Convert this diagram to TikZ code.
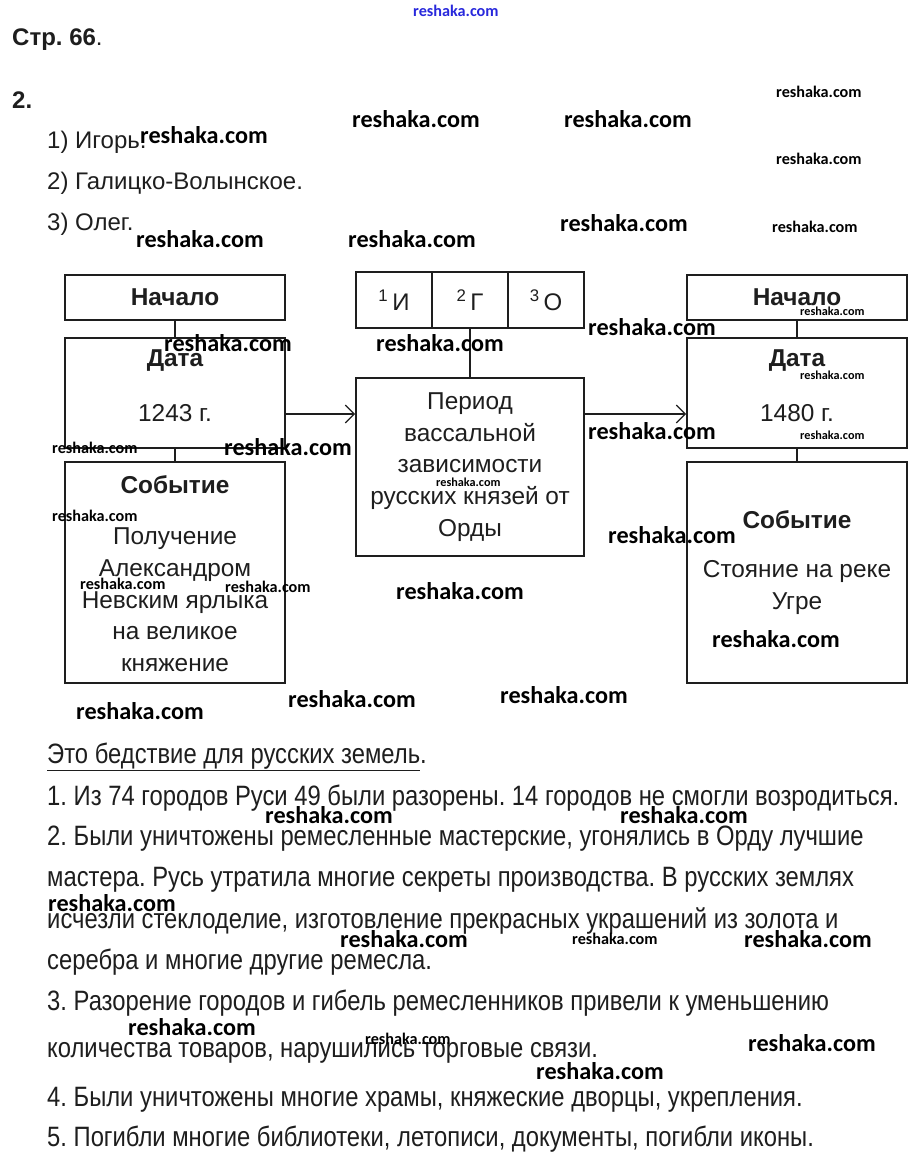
\documentclass[tikz,border=0pt]{standalone}
\usepackage{fontspec}
\setmainfont{Liberation Sans}
\newfontfamily\wmfont{Carlito}
\newfontfamily\narrowfont[FakeStretch=0.85]{Liberation Sans}
\usetikzlibrary{arrows.meta,positioning}
\definecolor{inkcolor}{RGB}{30,30,30}
\definecolor{wmblue}{RGB}{40,40,220}
\frenchspacing

\tikzset{
  infobox/.style={draw=inkcolor, line width=1.6pt, minimum width=220pt, inner sep=0pt},
  tabcell/.style={draw=inkcolor, line width=1.6pt, minimum width=76pt, minimum height=56pt,
                  inner sep=0pt, font=\fontsize{24}{28}\selectfont, text=inkcolor},
  boxhead/.style={font=\fontsize{24.4}{28}\selectfont\bfseries, text=inkcolor, inner sep=0pt},
  boxtext/.style={font=\fontsize{24.4}{31.7}\selectfont, text=inkcolor, align=center, inner sep=0pt},
  textline/.style={font=\fontsize{24}{28}\selectfont, text=inkcolor, anchor=west, inner sep=0pt},
  paraline/.style={font=\narrowfont\fontsize{28}{32}\selectfont, text=inkcolor, anchor=west, inner sep=0pt},
  wmbig/.style={font=\wmfont\bfseries\fontsize{24.2}{28}\selectfont, anchor=west, inner sep=0pt},
  wmsmall/.style={font=\wmfont\bfseries\fontsize{16.2}{19}\selectfont, anchor=west, inner sep=0pt},
  wmtiny/.style={font=\wmfont\bfseries\fontsize{12.2}{15}\selectfont, anchor=west, inner sep=0pt},
  link/.style={draw=inkcolor, line width=1.3pt},
  arr/.style={link, -{Straight Barb[length=9pt, width=18pt, line width=1.3pt]}},
}

\begin{document}
\begin{tikzpicture}[x=1pt, y=-1pt]
  \fill[white] (0,0) rectangle (923,1162);
  \useasboundingbox (0,0) rectangle (923,1162);

  % heading and answers
  \node[textline, font=\fontsize{24}{28}\selectfont] (page) at (12,40) {\textbf{Стр. 66}.};
  \node[textline, font=\fontsize{24}{28}\selectfont\bfseries] (task) at (12,100) {2.};
  \node[textline] (ans1) at (47,142) {1) Игорь.};
  \node[textline] (ans2) at (47,183) {2) Галицко-Волынское.};
  \node[textline] (ans3) at (47,224) {3) Олег.};

  % left column
  \node[infobox, minimum height=45pt, font=\fontsize{24.4}{28}\selectfont\bfseries, text=inkcolor]
       (startL) at (175,297.5) {Начало};
  \node[infobox, minimum height=110pt] (dateL) at (175,393) {};
  \node[infobox, minimum height=221pt] (eventL) at (175,572.5) {};
  \node[boxhead] (dateLh) at (175,361) {Дата};
  \node[boxtext] (dateLv) at (175,413) {1243 г.};
  \node[boxhead] (eventLh) at (175,485) {Событие};
  \node[boxtext] (eventLv) at (175,600)
       {Получение\\Александром\\Невским ярлыка\\на великое\\княжение};

  % middle column
  \node[tabcell] (c1) at (394,300) {\textsuperscript{1}\,И};
  \node[tabcell] (c2) at (470,300) {\textsuperscript{2}\,Г};
  \node[tabcell] (c3) at (546,300) {\textsuperscript{3}\,О};
  \node[infobox, boxtext, draw=inkcolor, line width=1.6pt, minimum width=228pt, minimum height=178pt]
       (mid) at (470,467) {Период\\вассальной\\зависимости\\русских князей от\\Орды};

  % right column
  \node[infobox, minimum height=45pt, font=\fontsize{24.4}{28}\selectfont\bfseries, text=inkcolor]
       (startR) at (797,297.5) {Начало};
  \node[infobox, minimum height=110pt] (dateR) at (797,393) {};
  \node[infobox, minimum height=221pt] (eventR) at (797,572.5) {};
  \node[boxhead] (dateRh) at (797,361) {Дата};
  \node[boxtext] (dateRv) at (797,413) {1480 г.};
  \node[boxhead] (eventRh) at (797,520) {Событие};
  \node[boxtext] (eventRv) at (797,587.5) {Стояние на реке\\Угре};

  % connectors
  \draw[link] (startL) -- (dateL);
  \draw[link] (dateL) -- (eventL);
  \draw[link] (startR) -- (dateR);
  \draw[link] (dateR) -- (eventR);
  \draw[link] (c2) -- (mid);
  \coordinate (arrowrow) at (0,414);
  \draw[arr] (dateL.east |- arrowrow) -- (mid.west |- arrowrow);
  \draw[arr] (mid.east |- arrowrow) -- (dateR.west |- arrowrow);

  % text below
  \node[paraline] (p0) at (47,757) {\underline{Это бедствие для русских земель}.};
  \node[paraline] (p1) at (47,798) {1. Из 74 городов Руси 49 были разорены. 14 городов не смогли возродиться.};
  \node[paraline] (p2) at (47,839) {2. Были уничтожены ремесленные мастерские, угонялись в Орду лучшие};
  \node[paraline] (p3) at (47,880) {мастера. Русь утратила многие секреты производства. В русских землях};
  \node[paraline] (p4) at (47,921) {исчезли стеклоделие, изготовление прекрасных украшений из золота и};
  \node[paraline] (p5) at (47,962) {серебра и многие другие ремесла.};
  \node[paraline] (p6) at (47,1003) {3. Разорение городов и гибель ремесленников привели к уменьшению};
  \node[paraline] (p7) at (47,1053) {количества товаров, нарушились торговые связи.};
  \node[paraline] (p8) at (47,1100) {4. Были уничтожены многие храмы, княжеские дворцы, укрепления.};
  \node[paraline] (p9) at (47,1139) {5. Погибли многие библиотеки, летописи, документы, погибли иконы.};

  % watermarks
  \node[wmsmall, text=wmblue] (wmtop) at (413,11) {reshaka.com};
  \foreach \wx/\wy [count=\i] in {140/135, 352/119, 564/119, 560/223, 136/239, 348/239,
      588/327, 164/343, 376/343, 588/431, 224/447, 608/535, 396/591, 712/639,
      76/711, 288/699, 500/695, 265/815, 620/815, 48/903, 340/939, 744/939,
      128/1027, 748/1043, 536/1071}
    \node[wmbig] (wmb\i) at (\wx,\wy) {reshaka.com};
  \foreach \wx/\wy [count=\i] in {776/92, 776/159, 772/227, 52/448, 52/516,
      80/584, 225/587, 572/939, 365/1039}
    \node[wmsmall] (wms\i) at (\wx,\wy) {reshaka.com};
  \foreach \wx/\wy [count=\i] in {800/311, 800/375, 800/435, 436/482}
    \node[wmtiny] (wmt\i) at (\wx,\wy) {reshaka.com};
\end{tikzpicture}
\end{document}
